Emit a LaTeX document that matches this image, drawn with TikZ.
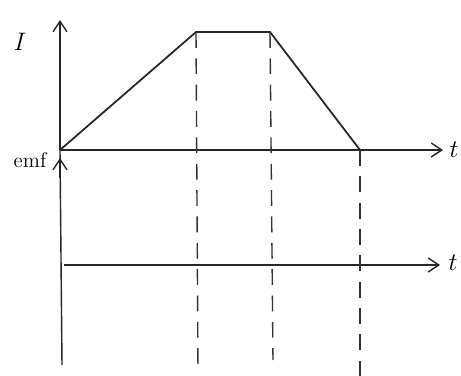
\documentclass[tikz,border=0pt]{standalone}
\usepackage{tikz}
\usetikzlibrary{arrows.meta}

\begin{document}
\begin{tikzpicture}[x=0.02cm,y=-0.02cm,
  every node/.style={font=\Large},
  axis/.style={line width=0.8pt,color=black!85},
  arrow/.style={axis,-{Straight Barb[length=6pt,width=8pt]}},
  graph/.style={line width=1pt,color=black!85},
  guide/.style={line width=0.8pt,dashed,dash pattern=on 9pt off 6pt,color=black!80}
]
\useasboundingbox (0,0) rectangle (461,376);

% current against time
\coordinate (O1) at (60,150);
\coordinate (Itop) at (60,20);
\coordinate (t1end) at (443,150);
\coordinate (A) at (196,32);
\coordinate (B) at (270,32);
\coordinate (C) at (360,150);
\draw[arrow] (O1) -- (Itop);
\draw[arrow] (O1) -- (t1end);
\draw[graph] (O1) -- (A) -- (B) -- (C);
\node (I) at (20,42) {$I$};
\node (t1) at (454,150) {$t$};

% emf against time
\coordinate (E0) at (62,365);
\coordinate (Etip) at (60,158);
\coordinate (O2) at (64,265);
\coordinate (t2end) at (440,265);
\draw[axis] (O1) -- (E0);
\draw[arrow] (60,178) -- (Etip);
\draw[arrow] (O2) -- (t2end);
\node (emf) at (30,160) {\large emf};
\node (t2) at (453,263) {$t$};

% guides
\coordinate (Ad) at (198,370);
\coordinate (Bd) at (273,360);
\coordinate (Cd) at (360,376);
\draw[guide] (A) -- (Ad);
\draw[guide] (B) -- (Bd);
\draw[guide] (C) -- (Cd);
\end{tikzpicture}
\end{document}
